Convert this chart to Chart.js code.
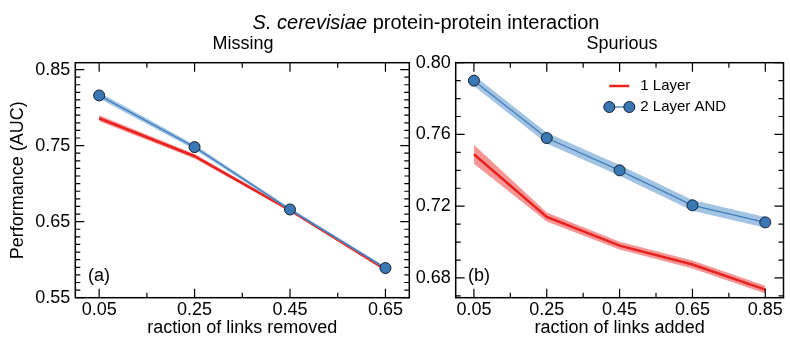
<!DOCTYPE html>
<html>
<head>
<meta charset="utf-8">
<script src="https://cdn.jsdelivr.net/npm/chart.js@4.4.1/dist/chart.umd.min.js"></script>
<style>
  body { margin: 0; background: #fff; }
  #wrap { position: relative; width: 790px; height: 339px; overflow: hidden; font-family: 'Liberation Sans', Arial, sans-serif; }
  canvas { position: absolute; top: 0; }
  .lbl { position: absolute; font-size: 18px; line-height: 20px; color: #000; white-space: nowrap; transform: translateX(-50%); }
  .main { font-size: 20px; line-height: 22px; }
</style>
</head>
<body>
<div id="wrap">
  <canvas id="missingChart" style="left:0px" width="420" height="339"></canvas>
  <canvas id="spuriousChart" style="left:390px" width="400" height="339"></canvas>
  <div class="lbl main" style="left:426px; top:11px;"><i>S. cerevisiae</i> protein-protein interaction</div>
  <div class="lbl" style="left:243px; top:33px;">Missing</div>
  <div class="lbl" style="left:622px; top:33px;">Spurious</div>
</div>
<script>
// Data
const missingX = [0.05, 0.25, 0.45, 0.65];
const missingOneLayer = [0.786, 0.736, 0.665, 0.587];
const missingOneLayerErr = [0.004, 0.003, 0.002, 0.002];
const missingTwoLayer = [0.816, 0.748, 0.666, 0.589];
const missingTwoLayerErr = [0.004, 0.003, 0.002, 0.002];
const missingXTicks = [0.05, 0.25, 0.45, 0.65];
const missingYTicks = [0.55, 0.65, 0.75, 0.85];

const spuriousX = [0.05, 0.25, 0.45, 0.65, 0.85];
const spuriousOneLayer = [0.749, 0.714, 0.698, 0.6875, 0.6735];
const spuriousOneLayerErr = [0.0053, 0.0025, 0.0022, 0.0022, 0.0022];
const spuriousTwoLayer = [0.790, 0.758, 0.740, 0.7205, 0.711];
const spuriousTwoLayerErr = [0.003, 0.003, 0.003, 0.003, 0.003];
const spuriousXTicks = [0.05, 0.25, 0.45, 0.65, 0.85];
const spuriousYTicks = [0.68, 0.72, 0.76, 0.80];

const RED = '#e8231f';
const RED_BAND = 'rgba(236, 80, 80, 0.6)';
const BLUE = '#3f7fbf';
const BLUE_BAND = 'rgba(100, 155, 205, 0.6)';
const FONT = "'Liberation Sans', Arial, sans-serif";

function pts(xs, ys, errs, sign) {
    return xs.map((x, i) => ({ x: x, y: ys[i] + sign * (errs ? errs[i] : 0) }));
}

function buildDatasets(xs, one, oneErr, two, twoErr) {
    return [
        { label: 'red upper', data: pts(xs, one, oneErr, 1), borderWidth: 0, pointRadius: 0, fill: false, order: 5 },
        { label: 'red lower', data: pts(xs, one, oneErr, -1), borderWidth: 0, pointRadius: 0, fill: '-1', backgroundColor: RED_BAND, order: 4 },
        { label: '1 Layer', data: pts(xs, one, null, 0), borderColor: RED, borderWidth: 2.5, pointRadius: 0, fill: false, order: 3 },
        { label: 'blue upper', data: pts(xs, two, twoErr, 1), borderWidth: 0, pointRadius: 0, fill: false, order: 2 },
        { label: 'blue lower', data: pts(xs, two, twoErr, -1), borderWidth: 0, pointRadius: 0, fill: '-1', backgroundColor: BLUE_BAND, order: 1 },
        { label: '2 Layer AND', data: pts(xs, two, null, 0), borderColor: BLUE, borderWidth: 1.3, fill: false,
          pointRadius: 5.5, pointBackgroundColor: '#3a78b5', pointBorderColor: '#16202e', pointBorderWidth: 1, clip: false, order: 0 }
    ];
}

// frame + inward ticks on all four sides, plus panel tag / legend
function framePlugin(xMajor, xMinor, yMajor, yMinor, tag, legend) {
    return {
        id: 'frame',
        afterDatasetsDraw(chart) {
            const { ctx, chartArea: a, scales } = chart;
            ctx.save();
            ctx.strokeStyle = '#000';
            ctx.lineWidth = 1.5;
            ctx.strokeRect(a.left, a.top, a.right - a.left, a.bottom - a.top);
            ctx.lineWidth = 1.2;
            const drawX = (v, len) => {
                const px = scales.x.getPixelForValue(v);
                ctx.beginPath();
                ctx.moveTo(px, a.bottom); ctx.lineTo(px, a.bottom - len);
                ctx.moveTo(px, a.top); ctx.lineTo(px, a.top + len);
                ctx.stroke();
            };
            const drawY = (v, len) => {
                const py = scales.y.getPixelForValue(v);
                ctx.beginPath();
                ctx.moveTo(a.left, py); ctx.lineTo(a.left + len, py);
                ctx.moveTo(a.right, py); ctx.lineTo(a.right - len, py);
                ctx.stroke();
            };
            xMajor.forEach(v => drawX(v, 9));
            xMinor.forEach(v => drawX(v, 5));
            yMajor.forEach(v => drawY(v, 9));
            yMinor.forEach(v => drawY(v, 5));

            ctx.fillStyle = '#000';
            ctx.font = '18px ' + FONT;
            ctx.textBaseline = 'middle';
            ctx.textAlign = 'left';
            ctx.fillText(tag.text, tag.x, tag.y);

            if (legend) {
                ctx.font = '15px ' + FONT;
                ctx.strokeStyle = RED;
                ctx.lineWidth = 2.5;
                ctx.beginPath();
                ctx.moveTo(legend.x, legend.y); ctx.lineTo(legend.x + 20, legend.y);
                ctx.stroke();
                ctx.fillText('1 Layer', legend.x + 31, legend.y);
                const y2 = legend.y + 21;
                ctx.strokeStyle = BLUE;
                ctx.lineWidth = 1.3;
                ctx.beginPath();
                ctx.moveTo(legend.x, y2); ctx.lineTo(legend.x + 20, y2);
                ctx.stroke();
                ctx.fillStyle = '#3a78b5';
                ctx.strokeStyle = '#16202e';
                ctx.lineWidth = 1;
                [legend.x, legend.x + 20].forEach(cx => {
                    ctx.beginPath();
                    ctx.arc(cx, y2, 5.5, 0, Math.PI * 2);
                    ctx.fill(); ctx.stroke();
                });
                ctx.fillStyle = '#000';
                ctx.fillText('2 Layer AND', legend.x + 31, y2);
            }
            ctx.restore();
        }
    };
}

function minorSteps(lo, hi, step, skip) {
    const out = [];
    for (let v = lo; v <= hi + 1e-9; v += step) {
        const r = Math.round(v * 1000) / 1000;
        if (!skip.some(s => Math.abs(s - r) < 1e-6)) out.push(r);
    }
    return out;
}

function makeChart(id, cfg) {
    return new Chart(document.getElementById(id).getContext('2d'), {
        type: 'line',
        data: { datasets: buildDatasets(cfg.xs, cfg.one, cfg.oneErr, cfg.two, cfg.twoErr) },
        options: {
            responsive: false,
            animation: false,
            events: [],
            layout: { padding: { top: 62.7, right: cfg.padRight, bottom: 0, left: 0 } },
            plugins: { legend: { display: false }, tooltip: { enabled: false } },
            scales: {
                x: {
                    type: 'linear', min: cfg.xMin, max: cfg.xMax,
                    afterBuildTicks: s => { s.ticks = cfg.xTicks.map(v => ({ value: v })); },
                    afterFit: s => { s.height = 41.3; },
                    grid: { display: false, drawTicks: false },
                    border: { display: false },
                    ticks: { color: '#000', font: { family: FONT, size: 18 }, padding: 2, maxRotation: 0,
                             callback: v => v.toFixed(2) },
                    title: { display: true, text: cfg.xTitle, color: '#000', font: { family: FONT, size: 18 }, padding: { top: 0, bottom: 0 } }
                },
                y: {
                    type: 'linear', min: cfg.yMin, max: cfg.yMax,
                    afterBuildTicks: s => { s.ticks = cfg.yTicks.map(v => ({ value: v })); },
                    afterFit: s => { s.width = cfg.yWidth; },
                    grid: { display: false, drawTicks: false },
                    border: { display: false },
                    ticks: { color: '#000', font: { family: FONT, size: 18 }, padding: 5,
                             callback: v => v.toFixed(2) },
                    title: { display: !!cfg.yTitle, text: cfg.yTitle || '', color: '#000', font: { family: FONT, size: 18 }, padding: { top: 7, bottom: 0 } }
                }
            }
        },
        plugins: [framePlugin(cfg.xTicks, cfg.xMinor, cfg.yTicks, cfg.yMinor, cfg.tag, cfg.legend)]
    });
}

makeChart('missingChart', {
    xs: missingX, one: missingOneLayer, oneErr: missingOneLayerErr, two: missingTwoLayer, twoErr: missingTwoLayerErr,
    xMin: 0, xMax: 0.7, yMin: 0.55, yMax: 0.859,
    xTicks: missingXTicks, yTicks: missingYTicks,
    xMinor: [0.15, 0.35, 0.55],
    yMinor: minorSteps(0.55, 0.85, 0.01, missingYTicks),
    xTitle: 'raction of links removed', yTitle: 'Performance (AUC)',
    yWidth: 75.3, padRight: 10.7,
    tag: { text: '(a)', x: 88, y: 276 }
});

makeChart('spuriousChart', {
    xs: spuriousX, one: spuriousOneLayer, oneErr: spuriousOneLayerErr, two: spuriousTwoLayer, twoErr: spuriousTwoLayerErr,
    xMin: 0, xMax: 0.9, yMin: 0.669, yMax: 0.8,
    xTicks: spuriousXTicks, yTicks: spuriousYTicks,
    xMinor: [0.15, 0.35, 0.55, 0.75],
    yMinor: minorSteps(0.67, 0.80, 0.01, spuriousYTicks),
    xTitle: 'raction of links added', yTitle: null,
    yWidth: 65.7, padRight: 1.7,
    tag: { text: '(b)', x: 78, y: 276 },
    legend: { x: 219.3, y: 86 }
});
</script>
</body>
</html>
